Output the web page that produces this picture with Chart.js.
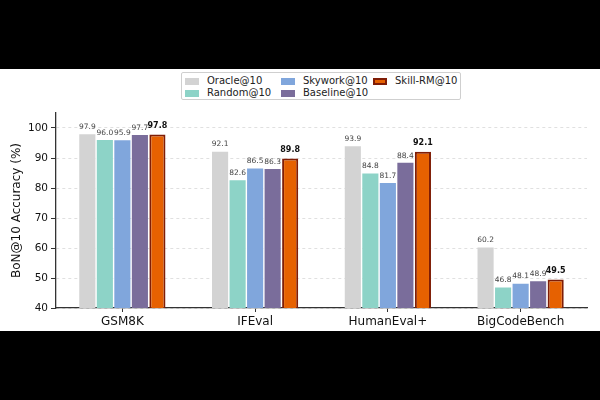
<!DOCTYPE html>
<html>
<head>
<meta charset="utf-8">
<script src="https://cdn.jsdelivr.net/npm/chart.js@4"></script>
<style>
  html, body { margin: 0; padding: 0; background: #000; width: 600px; height: 400px; overflow: hidden; }
  #panel { position: absolute; left: 0; top: 69px; width: 600px; height: 262px; background: #fff; }
  #legend {
    position: absolute; left: 181px; top: 3px; width: 280px; height: 28px;
    border: 1px solid #cfcfcf; border-radius: 2px; background: #fff;
    font-family: "DejaVu Sans", sans-serif; font-size: 10px; color: #222;
    display: grid; grid-template-columns: 96px 92px auto; grid-auto-flow: column;
    grid-template-rows: 12px 12px; padding: 2px 0 0 3px; box-sizing: border-box;
  }
  .item { display: flex; align-items: center; white-space: nowrap; line-height: 12px; }
  .sw { width: 14px; height: 7px; margin-right: 8px; box-sizing: border-box; }
</style>
</head>
<body>
<div id="panel">
  <canvas id="chart" width="600" height="262"></canvas>
  <div id="legend"></div>
</div>
<script>
// Datos
const categorias = ['GSM8K', 'IFEval', 'HumanEval+', 'BigCodeBench'];
const oracle   = [97.9, 92.1, 93.9, 60.2];
const random   = [96.0, 82.6, 84.8, 46.8];
const skywork  = [95.9, 86.5, 81.7, 48.1];
const baseline = [97.7, 86.3, 88.4, 48.9];
const skillRM  = [97.8, 89.8, 92.1, 49.5];
const yTicks   = [40, 50, 60, 70, 80, 90, 100];

const series = [
    { label: 'Oracle@10',   data: oracle,   color: '#d3d3d3' },
    { label: 'Random@10',   data: random,   color: '#8dd3c7' },
    { label: 'Skywork@10',  data: skywork,  color: '#80a6dc' },
    { label: 'Baseline@10', data: baseline, color: '#7a6d9b' },
    { label: 'Skill-RM@10', data: skillRM,  color: '#e66101', border: '#7f1d06', bold: true }
];

const FONT = '"DejaVu Sans", sans-serif';

// Etiquetas de valor sobre cada barra
const etiquetasBarras = {
    id: 'etiquetasBarras',
    afterDatasetsDraw(chart) {
        const ctx = chart.ctx;
        ctx.save();
        ctx.textAlign = 'center';
        ctx.textBaseline = 'bottom';
        chart.data.datasets.forEach((ds, i) => {
            const meta = chart.getDatasetMeta(i);
            meta.data.forEach((bar, j) => {
                const s = series[i];
                ctx.font = s.bold ? `bold 8px ${FONT}` : `7.5px ${FONT}`;
                ctx.fillStyle = s.bold ? '#111' : '#444';
                ctx.fillText(ds.data[j].toFixed(1), bar.x, bar.y - (s.bold ? 5 : 3.5));
            });
        });
        ctx.restore();
    }
};

new Chart(document.getElementById('chart').getContext('2d'), {
    type: 'bar',
    data: {
        labels: categorias,
        datasets: series.map(s => ({
            label: s.label,
            data: s.data,
            backgroundColor: s.color,
            borderColor: s.border || s.color,
            borderWidth: s.border ? 2 : 0,
            borderSkipped: false,
            categoryPercentage: 0.66,
            barPercentage: 0.92
        }))
    },
    options: {
        responsive: false,
        devicePixelRatio: 1,
        animation: false,
        layout: { padding: { top: 44, right: 13, left: 0, bottom: 0 } },
        plugins: { legend: { display: false }, tooltip: { enabled: false } },
        scales: {
            x: {
                grid: { display: true, drawOnChartArea: false, offset: false, tickLength: 4, color: '#333' },
                border: { color: '#333', width: 1.3 },
                ticks: { color: '#111', font: { family: FONT, size: 12 }, padding: 3, maxRotation: 0 },
                afterFit: scale => { scale.height = 23; }
            },
            y: {
                min: 40,
                max: 105,
                afterBuildTicks: scale => { scale.ticks = yTicks.map(v => ({ value: v })); },
                grid: {
                    color: '#d9d9d9', lineWidth: 0.8,
                    tickLength: 5, tickColor: '#333', tickBorderDash: [], tickWidth: 1
                },
                border: { color: '#333', width: 1.3, dash: [3, 3] },
                ticks: { color: '#111', font: { family: FONT, size: 10.5 }, padding: 3 },
                title: {
                    display: true, text: 'BoN@10 Accuracy (%)', color: '#111',
                    font: { family: FONT, size: 12 }, padding: { top: 10, bottom: 0 }
                },
                afterFit: scale => { scale.width = 56; }
            }
        }
    },
    plugins: [etiquetasBarras]
});

// Leyenda en HTML (3 columnas, orden por columnas como en el original)
const leyenda = document.getElementById('legend');
series.forEach(s => {
    const item = document.createElement('div');
    item.className = 'item';
    const borde = s.border ? `border:2px solid ${s.border};` : '';
    item.innerHTML = `<span class="sw" style="background:${s.color};${borde}"></span>${s.label}`;
    leyenda.appendChild(item);
});
</script>
</body>
</html>
